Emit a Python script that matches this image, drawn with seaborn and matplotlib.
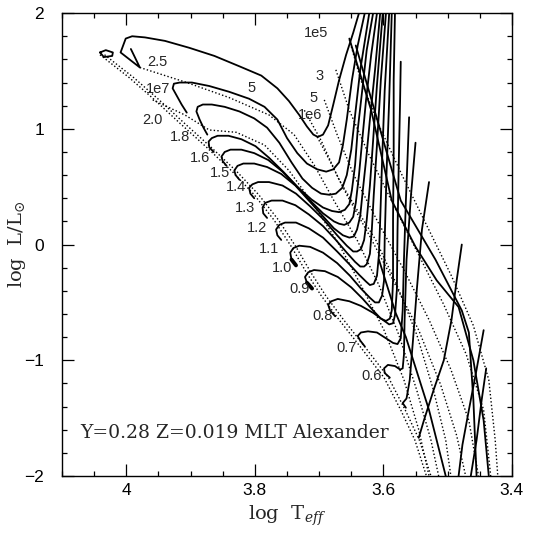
import numpy as np
import pandas as pd
import matplotlib
matplotlib.use('Agg')
import matplotlib.pyplot as plt
import seaborn as sns
from matplotlib.ticker import MultipleLocator

# --- evolutionary tracks (log Teff, log L) ---
m25_T = [3.993, 3.979, 4.009, 4.005, 4.001, 3.991, 3.971, 3.940, 3.902, 3.863, 3.824, 3.790, 3.765, 3.747, 3.731, 3.719, 3.709, 3.702, 3.694, 3.686, 3.678, 3.669, 3.658, 3.647, 3.638]
m25_L = [1.69, 1.53, 1.66, 1.72, 1.78, 1.80, 1.79, 1.76, 1.70, 1.63, 1.54, 1.46, 1.35, 1.24, 1.12, 1.02, 0.95, 0.93, 0.95, 1.03, 1.21, 1.42, 1.64, 1.83, 2.00]
loop_T = [4.041, 4.032, 4.021, 4.022, 4.035, 4.041]
loop_L = [1.66, 1.68, 1.66, 1.63, 1.62, 1.66]
m20_T = [3.906, 3.914, 3.922, 3.928, 3.926, 3.917, 3.898, 3.871, 3.840, 3.809, 3.785, 3.765, 3.750, 3.734, 3.719, 3.703, 3.689, 3.678, 3.669, 3.663, 3.657, 3.649, 3.640, 3.629]
m20_L = [1.14, 1.21, 1.29, 1.35, 1.39, 1.40, 1.40, 1.37, 1.32, 1.26, 1.19, 1.08, 0.92, 0.79, 0.70, 0.65, 0.63, 0.65, 0.71, 0.86, 1.08, 1.42, 1.72, 2.00]
m18_T = [3.874, 3.880, 3.886, 3.891, 3.889, 3.881, 3.867, 3.847, 3.824, 3.801, 3.781, 3.762, 3.743, 3.726, 3.711, 3.697, 3.684, 3.674, 3.664, 3.657, 3.650, 3.644, 3.636, 3.622]
m18_L = [0.95, 1.01, 1.08, 1.15, 1.19, 1.21, 1.21, 1.19, 1.15, 1.09, 1.01, 0.88, 0.71, 0.57, 0.49, 0.44, 0.43, 0.44, 0.49, 0.60, 0.82, 1.12, 1.51, 2.00]
m16_T = [3.864, 3.871, 3.872, 3.867, 3.858, 3.841, 3.821, 3.799, 3.778, 3.756, 3.734, 3.712, 3.694, 3.680, 3.669, 3.660, 3.653, 3.649, 3.644, 3.640, 3.633, 3.626, 3.616]
m16_L = [0.80, 0.84, 0.89, 0.92, 0.94, 0.94, 0.91, 0.85, 0.75, 0.63, 0.50, 0.39, 0.32, 0.29, 0.28, 0.30, 0.35, 0.47, 0.69, 0.99, 1.33, 1.68, 2.00]
m15_T = [3.844, 3.850, 3.852, 3.847, 3.838, 3.821, 3.801, 3.779, 3.757, 3.736, 3.714, 3.694, 3.677, 3.669, 3.661, 3.653, 3.647, 3.643, 3.638, 3.633, 3.627, 3.619, 3.610]
m15_L = [0.68, 0.72, 0.76, 0.80, 0.82, 0.82, 0.79, 0.73, 0.63, 0.51, 0.38, 0.27, 0.20, 0.18, 0.17, 0.19, 0.24, 0.36, 0.60, 0.90, 1.25, 1.64, 2.00]
m14_T = [3.824, 3.830, 3.832, 3.827, 3.818, 3.801, 3.781, 3.759, 3.737, 3.716, 3.695, 3.677, 3.663, 3.653, 3.646, 3.641, 3.636, 3.632, 3.627, 3.621, 3.613, 3.605]
m14_L = [0.56, 0.60, 0.64, 0.68, 0.70, 0.70, 0.67, 0.61, 0.51, 0.38, 0.25, 0.14, 0.08, 0.06, 0.07, 0.13, 0.25, 0.47, 0.73, 1.08, 1.51, 2.00]
m13_T = [3.801, 3.807, 3.809, 3.804, 3.795, 3.778, 3.757, 3.736, 3.714, 3.692, 3.672, 3.657, 3.647, 3.641, 3.635, 3.630, 3.626, 3.621, 3.616, 3.610, 3.601]
m13_L = [0.40, 0.44, 0.49, 0.52, 0.54, 0.54, 0.51, 0.44, 0.33, 0.21, 0.08, -0.01, -0.06, -0.06, -0.04, 0.04, 0.21, 0.51, 0.90, 1.38, 2.00]
m12_T = [3.781, 3.787, 3.788, 3.784, 3.774, 3.757, 3.737, 3.716, 3.694, 3.674, 3.657, 3.644, 3.636, 3.630, 3.626, 3.621, 3.618, 3.615, 3.610, 3.604, 3.596]
m12_L = [0.23, 0.27, 0.32, 0.36, 0.38, 0.38, 0.34, 0.26, 0.16, 0.04, -0.07, -0.15, -0.19, -0.19, -0.17, -0.08, 0.13, 0.43, 0.86, 1.42, 2.00]
m11_T = [3.759, 3.765, 3.767, 3.762, 3.753, 3.736, 3.716, 3.694, 3.672, 3.653, 3.638, 3.627, 3.621, 3.615, 3.610, 3.607, 3.605, 3.602, 3.598, 3.591]
m11_L = [0.04, 0.08, 0.13, 0.17, 0.19, 0.19, 0.14, 0.06, -0.06, -0.17, -0.26, -0.32, -0.35, -0.34, -0.27, -0.09, 0.21, 0.73, 1.33, 2.00]
m10_T = [3.736, 3.743, 3.745, 3.740, 3.731, 3.714, 3.694, 3.672, 3.652, 3.635, 3.621, 3.613, 3.607, 3.602, 3.599, 3.598, 3.595, 3.591, 3.587]
m10_L = [-0.18, -0.13, -0.07, -0.03, -0.01, -0.02, -0.07, -0.16, -0.27, -0.38, -0.46, -0.50, -0.50, -0.44, -0.31, 0.04, 0.64, 1.25, 2.00]
m09_T = [3.711, 3.719, 3.722, 3.717, 3.708, 3.691, 3.671, 3.650, 3.632, 3.616, 3.604, 3.596, 3.590, 3.587, 3.585, 3.585, 3.584, 3.584, 3.582]
m09_L = [-0.38, -0.33, -0.28, -0.24, -0.22, -0.23, -0.28, -0.37, -0.47, -0.57, -0.64, -0.66, -0.64, -0.57, -0.31, 0.21, 0.82, 1.42, 2.00]
m08_T = [3.675, 3.683, 3.686, 3.681, 3.671, 3.653, 3.635, 3.616, 3.601, 3.591, 3.585, 3.582, 3.579, 3.578, 3.576, 3.574, 3.573]
m08_L = [-0.62, -0.57, -0.52, -0.49, -0.47, -0.49, -0.53, -0.59, -0.65, -0.69, -0.68, -0.61, -0.39, 0.13, 0.73, 1.25, 1.58]
m07_T = [3.629, 3.636, 3.640, 3.635, 3.624, 3.610, 3.596, 3.585, 3.578, 3.573, 3.570, 3.568, 3.565, 3.560]
m07_L = [-0.88, -0.83, -0.79, -0.76, -0.75, -0.76, -0.81, -0.85, -0.86, -0.81, -0.57, -0.13, 0.38, 1.10]
m06_T = [3.590, 3.598, 3.599, 3.593, 3.582, 3.574, 3.570, 3.568, 3.567, 3.564, 3.557, 3.550]
m06_L = [-1.15, -1.11, -1.07, -1.04, -1.05, -1.08, -1.07, -0.95, -0.65, -0.13, 0.43, 0.88]
m05_T = [3.565, 3.570, 3.564, 3.559, 3.554, 3.548, 3.540, 3.529]
m05_L = [-1.41, -1.37, -1.33, -1.17, -0.83, -0.39, 0.13, 0.54]
m04_T = [3.545, 3.537, 3.522, 3.506, 3.494, 3.486, 3.478]
m04_L = [-1.67, -1.52, -1.26, -1.00, -0.65, -0.31, 0.00]
m03_T = [3.444, 3.455, 3.467, 3.477, 3.483]
m03_L = [-0.74, -1.08, -1.43, -1.73, -2.00]
m02_T = [3.440, 3.447, 3.455, 3.464]
m02_L = [-1.07, -1.34, -1.69, -2.00]
# solid diagonal lines crossing the Hayashi tracks
d1_T = [3.653, 3.619, 3.587, 3.550, 3.517, 3.483, 3.460, 3.444, 3.436]
d1_L = [1.78, 1.16, 0.38, -0.02, -0.31, -0.54, -1.00, -1.52, -2.00]
d2_T = [3.643, 3.607, 3.573, 3.519, 3.478, 3.467, 3.460, 3.455]
d2_L = [1.72, 1.03, 0.38, -0.13, -0.57, -0.76, -1.34, -2.00]
d0_T = [3.607, 3.581, 3.565, 3.529, 3.503]
d0_L = [-0.13, -0.59, -0.80, -1.43, -2.00]
# short thick pieces where the 1.0 and 0.9 tracks reach the ZAMS
tip10_T = [3.743, 3.736]
tip10_L = [-0.13, -0.18]
tip09_T = [3.719, 3.711]
tip09_L = [-0.33, -0.38]

# --- isochrones (dotted) ---
zams_T = [4.041, 3.995, 3.956, 3.917, 3.875, 3.835, 3.801, 3.770, 3.743, 3.720, 3.697, 3.669, 3.635, 3.599, 3.573, 3.551, 3.533]
zams_L = [1.64, 1.44, 1.25, 1.05, 0.84, 0.63, 0.43, 0.21, -0.02, -0.24, -0.44, -0.65, -0.89, -1.15, -1.43, -1.69, -2.00]
zams2_T = [4.034, 3.988, 3.949, 3.910, 3.868, 3.828, 3.794, 3.763, 3.736, 3.713, 3.690, 3.662, 3.628, 3.592, 3.566, 3.544, 3.526]
i1e7_T = [3.959, 3.909, 3.871, 3.829, 3.785, 3.747, 3.708, 3.669, 3.635, 3.599, 3.568, 3.545, 3.529]
i1e7_L = [1.25, 1.12, 0.99, 0.97, 0.86, 0.64, 0.34, 0.00, -0.35, -0.74, -1.17, -1.60, -2.00]
i5e6_T = [3.979, 3.906, 3.840, 3.778, 3.739, 3.708, 3.677, 3.641, 3.607, 3.576, 3.548, 3.526, 3.514]
i5e6_L = [1.53, 1.40, 1.27, 1.12, 0.95, 0.69, 0.38, 0.04, -0.35, -0.78, -1.26, -1.69, -2.00]
i3e6_T = [3.723, 3.697, 3.669, 3.641, 3.612, 3.579, 3.548, 3.522, 3.503, 3.495]
i3e6_L = [1.16, 0.90, 0.56, 0.30, 0.04, -0.35, -0.78, -1.26, -1.69, -2.00]
i1e6_T = [3.703, 3.684, 3.657, 3.622, 3.584, 3.545, 3.511, 3.486, 3.472]
i1e6_L = [0.93, 0.73, 0.43, 0.08, -0.32, -0.74, -1.21, -1.65, -2.00]
i5e5_T = [3.692, 3.672, 3.646, 3.610, 3.568, 3.529, 3.495, 3.467, 3.452]
i5e5_L = [1.25, 0.95, 0.60, 0.21, -0.22, -0.65, -1.08, -1.52, -2.00]
i3e5_T = [3.674, 3.653, 3.622, 3.584, 3.545, 3.506, 3.471, 3.444, 3.433]
i3e5_L = [1.51, 1.16, 0.77, 0.34, -0.09, -0.52, -0.95, -1.43, -2.00]
i1e5_T = [3.653, 3.635, 3.607, 3.571, 3.533, 3.495, 3.460, 3.436, 3.426, 3.422]
i1e5_L = [1.77, 1.42, 1.03, 0.60, 0.17, -0.26, -0.70, -1.17, -1.69, -2.00]

# --- labels ---
mass_labels = ['2.5', '2.0', '1.8', '1.6', '1.5', '1.4', '1.3', '1.2', '1.1', '1.0', '0.9', '0.8', '0.7', '0.6']
mass_lab_T = [3.951, 3.960, 3.917, 3.886, 3.855, 3.830, 3.816, 3.796, 3.778, 3.757, 3.731, 3.695, 3.657, 3.619]
mass_lab_L = [1.58, 1.08, 0.93, 0.75, 0.62, 0.50, 0.32, 0.14, -0.04, -0.20, -0.38, -0.62, -0.89, -1.14]
age_labels = ['1e7', '5', '1e5', '3', '5', '1e6']
age_lab_T = [3.951, 3.805, 3.705, 3.700, 3.709, 3.714]
age_lab_L = [1.34, 1.35, 1.83, 1.46, 1.27, 1.12]

solid = {
    '2.5': (m25_T, m25_L), 'loop': (loop_T, loop_L), '2.0': (m20_T, m20_L),
    '1.8': (m18_T, m18_L), '1.6': (m16_T, m16_L), '1.5': (m15_T, m15_L),
    '1.4': (m14_T, m14_L), '1.3': (m13_T, m13_L), '1.2': (m12_T, m12_L),
    '1.1': (m11_T, m11_L), '1.0': (m10_T, m10_L), '0.9': (m09_T, m09_L),
    '0.8': (m08_T, m08_L), '0.7': (m07_T, m07_L), '0.6': (m06_T, m06_L),
    '0.5': (m05_T, m05_L), '0.4': (m04_T, m04_L), '0.3': (m03_T, m03_L),
    '0.2': (m02_T, m02_L), 'd1': (d1_T, d1_L), 'd2': (d2_T, d2_L), 'd0': (d0_T, d0_L),
}
thick = {'tip10': (tip10_T, tip10_L), 'tip09': (tip09_T, tip09_L)}
dotted = {
    'zams': (zams_T, zams_L), 'zams2': (zams2_T, zams_L), '1e7': (i1e7_T, i1e7_L),
    '5e6': (i5e6_T, i5e6_L), '3e6': (i3e6_T, i3e6_L), '1e6': (i1e6_T, i1e6_L),
    '5e5': (i5e5_T, i5e5_L), '3e5': (i3e5_T, i3e5_L), '1e5': (i1e5_T, i1e5_L),
}


def to_frame(d):
    rows = []
    for name, (t, l) in d.items():
        for i, (a, b) in enumerate(zip(t, l)):
            rows.append({'name': name, 'order': i, 'logT': a, 'logL': b})
    return pd.DataFrame(rows)


sns.set_theme(style='ticks')
plt.rcParams['font.family'] = ['Liberation Sans', 'DejaVu Sans']
plt.rcParams['mathtext.fontset'] = 'dejavuserif'

fig = plt.figure(figsize=(5.40, 5.37), dpi=100)
ax = fig.add_axes([0.115, 0.1136, 0.833, 0.862])

sns.lineplot(data=to_frame(solid), x='logT', y='logL', units='name', estimator=None,
             sort=False, color='black', linewidth=1.3, ax=ax, legend=False)
sns.lineplot(data=to_frame(thick), x='logT', y='logL', units='name', estimator=None,
             sort=False, color='black', linewidth=2.8, ax=ax, legend=False)
sns.lineplot(data=to_frame(dotted), x='logT', y='logL', units='name', estimator=None,
             sort=False, color='black', linewidth=1.0, linestyle=(0, (1, 1.6)),
             ax=ax, legend=False)

for s, t, l in zip(mass_labels, mass_lab_T, mass_lab_L):
    ax.text(t, l, s, fontsize=10.5, ha='center', va='center')
for s, t, l in zip(age_labels, age_lab_T, age_lab_L):
    ax.text(t, l, s, fontsize=10.5, ha='center', va='center')

ax.text(4.072, -1.63, 'Y=0.28 Z=0.019 MLT Alexander', fontsize=13.5,
        family='DejaVu Serif', ha='left', va='center')

ax.set_xlim(4.1, 3.4)
ax.set_ylim(-2, 2)
ax.xaxis.set_major_locator(MultipleLocator(0.2))
ax.xaxis.set_minor_locator(MultipleLocator(0.05))
ax.yaxis.set_major_locator(MultipleLocator(1))
ax.yaxis.set_minor_locator(MultipleLocator(0.2))
ax.tick_params(which='both', direction='in', top=True, right=True, width=0.9, colors='black')
ax.tick_params(which='major', length=8.5, labelsize=12.5)
ax.tick_params(axis='x', which='major', pad=5)
ax.tick_params(axis='y', which='major', pad=13)
ax.tick_params(which='minor', length=3.6)
ax.set_xticks([4.0, 3.8, 3.6, 3.4])
ax.set_xticklabels(['4', '3.8', '3.6', '3.4'])
ax.set_yticks([-2, -1, 0, 1, 2])
ax.set_yticklabels(['\u22122', '\u22121', '0', '1', '2'])
for sp in ax.spines.values():
    sp.set_linewidth(1.0)
    sp.set_color('black')

ax.set_xlabel(r'log  T$_{\mathbf{\mathit{eff}}}$', fontsize=14, family='DejaVu Serif', labelpad=4)
ax.set_ylabel(r'log  L/L$_{\odot}$', fontsize=14, family='DejaVu Serif')
ax.yaxis.set_label_coords(-0.075, 0.5)

fig.savefig('out.png', dpi=100)
